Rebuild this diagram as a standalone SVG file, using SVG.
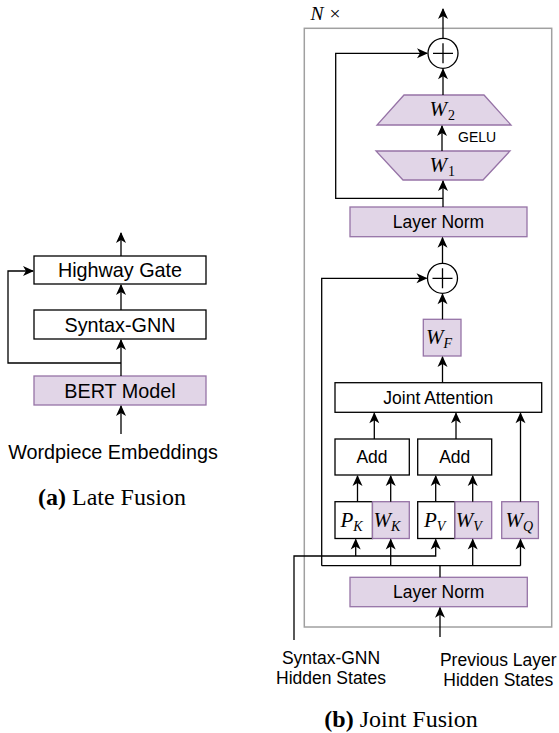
<svg xmlns="http://www.w3.org/2000/svg" width="559" height="733" viewBox="0 0 559 733">
<defs>
<marker id="ah" viewBox="-11 -6 13 12" refX="0" refY="0" markerWidth="13" markerHeight="12" orient="auto" markerUnits="userSpaceOnUse">
<path d="M1,0 L-10,-5 L-7,0 L-10,5 Z" fill="#000"/>
</marker>
</defs>
<style>
.box{fill:#fff;stroke:#000;stroke-width:1.3}
.pbox{fill:#e1d5e7;stroke:#9673a6;stroke-width:1.3}
.ln{fill:none;stroke:#000;stroke-width:1.3}
.arr{fill:none;stroke:#000;stroke-width:1.3;marker-end:url(#ah)}
.tl{font-family:"Liberation Sans",Arial,sans-serif;font-size:19.8px;fill:#000;text-anchor:middle}
.tr{font-family:"Liberation Sans",Arial,sans-serif;font-size:17.5px;fill:#000;text-anchor:middle}
.m{font-family:"Liberation Serif","Times New Roman",serif;font-size:21px;font-style:italic;fill:#000}
.sub{font-size:14px}
.cap{font-family:"Liberation Serif","Times New Roman",serif;font-size:24px;fill:#000;text-anchor:middle}
</style>

<!-- Left: Late Fusion -->
<g id="highway-gate"><rect class="box" x="34" y="256" width="172" height="28"/><text class="tl" x="120" y="277">Highway Gate</text></g>
<g id="syntax-gnn"><rect class="box" x="34" y="310" width="172" height="29"/><text class="tl" x="120" y="331.5">Syntax-GNN</text></g>
<g id="bert"><rect class="pbox" x="34" y="376" width="172" height="29"/><text class="tl" x="120" y="397.5">BERT Model</text></g>
<g id="wordpiece"><text class="tl" x="113" y="459">Wordpiece Embeddings</text></g>
<g id="cap-a"><text class="cap" x="112" y="505"><tspan font-weight="bold">(a)</tspan> Late Fusion</text></g>

<!-- Right: Joint Fusion -->
<g id="nx"><text font-family="'Liberation Serif',serif" font-size="19.5" x="310.5" y="19.5"><tspan font-style="italic">N</tspan><tspan x="329.5">×</tspan></text></g>
<g id="outer"><rect x="304.3" y="28.3" width="247.4" height="598.7" fill="none" stroke="#a0a0a0" stroke-width="1.5"/></g>

<g id="plus-top"><circle cx="443" cy="53.3" r="15" class="box"/><path class="ln" d="M433,53.3 H453 M443,43.3 V63.3"/></g>
<g id="w2"><polygon class="pbox" points="404,95 484,95 511,125 377,125"/><text class="m" x="429.5" y="116">W<tspan class="sub" font-style="normal" dy="4" dx="1">2</tspan></text></g>
<g id="gelu"><text font-family="'Liberation Sans',Arial,sans-serif" font-size="14" x="458" y="142.3">GELU</text></g>
<g id="w1"><polygon class="pbox" points="376,151 510,151 483,180 403,180"/><text class="m" x="429.5" y="172">W<tspan class="sub" font-style="normal" dy="4" dx="1">1</tspan></text></g>
<g id="ln-top"><rect class="pbox" x="350" y="207" width="177" height="29.7"/><text class="tr" x="438.5" y="228.3">Layer Norm</text></g>
<g id="plus-mid"><circle cx="442.5" cy="278.3" r="15" class="box"/><path class="ln" d="M432.5,278.3 H452.5 M442.5,268.3 V288.3"/></g>
<g id="wf"><rect class="pbox" x="423.3" y="319.3" width="37.7" height="36.7"/><text class="m" x="426" y="344">W<tspan class="sub" dy="4">F</tspan></text></g>
<g id="joint-attention"><rect class="box" x="335" y="382.7" width="206.7" height="29.6"/><text class="tr" x="438.3" y="403.8">Joint Attention</text></g>
<g id="add1"><rect class="box" x="335" y="439" width="74.3" height="36"/><text class="tr" x="372" y="463.3">Add</text></g>
<g id="add2"><rect class="box" x="417.7" y="439" width="74" height="36"/><text class="tr" x="454.7" y="463.3">Add</text></g>
<g id="pk"><rect class="box" x="335" y="501.7" width="37.5" height="36.8"/><text class="m" x="340.5" y="527">P<tspan class="sub" dy="4">K</tspan></text></g>
<g id="wk"><rect class="pbox" x="372.5" y="501.7" width="36.8" height="36.8"/><text class="m" x="373.5" y="527">W<tspan class="sub" dy="4">K</tspan></text></g>
<g id="pv"><rect class="box" x="417.7" y="501.7" width="37.3" height="36.8"/><text class="m" x="424" y="527">P<tspan class="sub" dy="4">V</tspan></text></g>
<g id="wv"><rect class="pbox" x="455" y="501.7" width="36.7" height="36.8"/><text class="m" x="455.8" y="527">W<tspan class="sub" dy="4">V</tspan></text></g>
<g id="wq"><rect class="pbox" x="501.7" y="501.7" width="36.7" height="36.8"/><text class="m" x="505.5" y="527">W<tspan class="sub" dy="4">Q</tspan></text></g>
<g id="ln-bottom"><rect class="pbox" x="350" y="577.3" width="177.3" height="29.4"/><text class="tr" x="438.7" y="598.2">Layer Norm</text></g>
<g id="syntax-hidden"><text class="tr" x="331" y="664">Syntax-GNN</text><text class="tr" x="331" y="684">Hidden States</text></g>
<g id="prev-hidden"><text class="tr" x="498.3" y="666">Previous Layer</text><text class="tr" x="498.3" y="686">Hidden States</text></g>
<g id="cap-b"><text class="cap" x="401" y="726.7"><tspan font-weight="bold">(b)</tspan> Joint Fusion</text></g>

<g id="connectors">
<!-- left -->
<path class="arr" d="M121,256 V233"/>
<path class="arr" d="M121,310 V285"/>
<path class="arr" d="M121,376 V340"/>
<path class="arr" d="M121,363 H8 V271 H33"/>
<path class="arr" d="M121,434 V406"/>
<!-- right upper -->
<path class="arr" d="M443,38.3 V9"/>
<path class="arr" d="M443,95 V69.3"/>
<path class="arr" d="M442,151 V126"/>
<path class="arr" d="M443,207 V181"/>
<path class="arr" d="M443,198.3 H335.7 V53.3 H427"/>
<path class="arr" d="M442.5,263.3 V237.7"/>
<path class="arr" d="M442.5,319.3 V294.3"/>
<path class="arr" d="M442.5,382.7 V357"/>
<!-- right lower -->
<path class="arr" d="M374.3,439 V413.3"/>
<path class="arr" d="M456,439 V413.3"/>
<path class="arr" d="M520.5,501.7 V413.3"/>
<path class="arr" d="M357.5,501.7 V476"/>
<path class="arr" d="M390.7,501.7 V476"/>
<path class="arr" d="M435.7,501.7 V476"/>
<path class="arr" d="M472.7,501.7 V476"/>
<path class="arr" d="M321.7,565.7 V278.3 H426.5"/>
<path class="ln" d="M321.7,565.7 H520.5 M440,577.3 V565.7"/>
<path class="arr" d="M390.7,565.7 V539.5"/>
<path class="arr" d="M472.7,565.7 V539.5"/>
<path class="arr" d="M520.5,565.7 V539.5"/>
<path class="arr" d="M294,640 V556 H435.7 V539.5"/>
<path class="arr" d="M355.7,556 V539.5"/>
<path class="arr" d="M440,637 V607.7"/>
</g>
</svg>
